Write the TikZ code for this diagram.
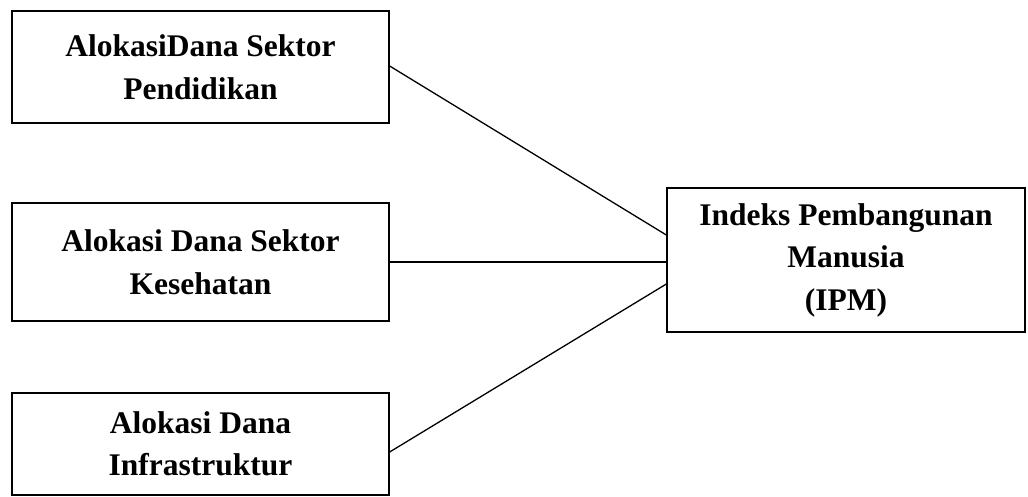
\documentclass[tikz,border=0pt]{standalone}
\usepackage{fontspec}
\setmainfont{Liberation Serif}
\usetikzlibrary{calc}
\begin{document}
\begin{tikzpicture}[x=1pt,y=-1pt,
  box/.style={draw=black, line width=1.3pt, inner sep=0pt, align=center,
    font=\fontsize{31.5}{42.5}\selectfont\bfseries},
  link/.style={draw=black, line width=1.3pt}]
\useasboundingbox (0,0) rectangle (1028,496);
\node[box, minimum width=377pt, minimum height=112pt] (pend) at (200.5,67) {AlokasiDana Sektor\\Pendidikan};
\node[box, minimum width=377pt, minimum height=118pt] (kes) at (200.5,262) {Alokasi Dana Sektor\\Kesehatan};
\node[box, minimum width=377pt, minimum height=102pt] (infra) at (200.5,444) {Alokasi Dana\\Infrastruktur};
\node[box, minimum width=358pt, minimum height=144pt] (ipm) at (846,260) {Indeks Pembangunan\\Manusia\\(IPM)};
\coordinate (t1) at ($(ipm.west)+(0,-25)$);
\coordinate (t3) at ($(ipm.west)+(0,24)$);
\coordinate (s1) at ($(pend.east)+(0,-1)$);
\coordinate (s3) at ($(infra.east)+(0,8)$);
\draw[link] (s1) -- (t1);
\draw[link] (kes.east) -- (kes.east -| ipm.west);
\draw[link] (s3) -- (t3);
\end{tikzpicture}
\end{document}
